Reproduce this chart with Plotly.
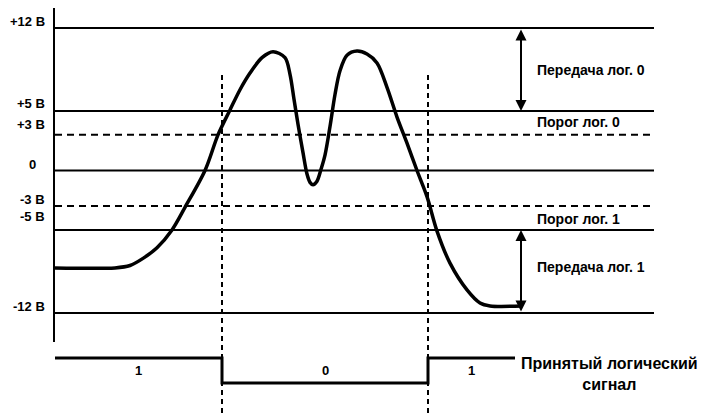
import plotly.graph_objects as go

# ---------------- data ----------------
# voltage levels (V) and their labels / styles
levels = [12, 5, 3, 0, -3, -5, -12]
level_labels = ["+12 В", "+5 В", "+3 В", "0", "-3 В", "-5 В", "-12 В"]
level_dash = ["solid", "solid", "dash", "solid", "dash", "solid", "solid"]

# line signal (time units, volts)
sig_t = [0, 60, 75, 88, 102, 117, 130, 150, 163, 175, 185, 195, 207, 218, 230,
         235, 239, 243, 248, 252, 255, 258, 262, 266, 270, 275, 280, 285, 292,
         302, 312, 322, 332, 342, 352, 362, 372, 382, 395, 412, 425, 435, 467]
sig_v = [-8.2, -8.2, -8.0, -7.4, -6.5, -5.0, -3.1, 0.0, 3.0, 5.1, 6.8, 8.2,
         9.5, 10.0, 9.5, 8.1, 6.0, 3.9, 1.5, -0.3, -1.0, -1.2, -0.9, 0.1, 1.3,
         3.7, 6.4, 8.4, 9.7, 10.05, 9.8, 9.05, 7.0, 4.5, 2.3, 0.0, -2.2, -5.1,
         -7.8, -10.05, -11.15, -11.4, -11.4]

# received logic signal
logic_t = [0, 167, 167, 373, 373, 460]
logic_v = [1, 1, 0, 0, 1, 1]
logic_labels = ["1", "0", "1"]

# zone annotations
zone_texts = ["Передача лог. 0", "Порог лог. 0", "Порог лог. 1", "Передача лог. 1"]
zone_v = [8.46, 4.1, -4.1, -8.1]
arrow_spans = [(5, 12), (-5, -12)]

# ---------------- styles / geometry ----------------
X_END = 599
ARROW_T = 466
LABEL_SHIFT = [6, 8, 10, 6, 7, 13, 7]
FONT = "Liberation Sans, Arial, sans-serif"

fig = go.Figure()

for lv, d in zip(levels, level_dash):
    fig.add_trace(go.Scatter(
        x=[0, X_END], y=[lv, lv], mode="lines",
        line=dict(color="black", width=2, dash="7px,5px" if d == "dash" else "solid"),
        hoverinfo="skip", showlegend=False))

fig.add_trace(go.Scatter(
    x=sig_t, y=sig_v, mode="lines",
    line=dict(color="black", width=3.5, shape="spline", smoothing=0.9),
    hoverinfo="skip", showlegend=False))

fig.add_trace(go.Scatter(
    x=logic_t, y=logic_v, mode="lines", yaxis="y2",
    line=dict(color="black", width=3),
    hoverinfo="skip", showlegend=False))

annotations = []
for lv, lab, sh in zip(levels, level_labels, LABEL_SHIFT):
    annotations.append(dict(
        x=0, y=lv, xref="x", yref="y", text="<b>%s</b>" % lab,
        showarrow=False, xanchor="right", yanchor="middle",
        xshift=-8 if lab != "0" else -17, yshift=sh,
        font=dict(family=FONT, size=13, color="black")))

for txt, v in zip(zone_texts, zone_v):
    annotations.append(dict(
        x=ARROW_T + 14, y=v, xref="x", yref="y", text="<b>%s</b>" % txt,
        showarrow=False, xanchor="left", yanchor="middle",
        font=dict(family=FONT, size=14, color="black")))

for v0, v1 in arrow_spans:
    annotations.append(dict(
        x=ARROW_T, y=v0, ax=ARROW_T, ay=v1, xref="x", yref="y",
        axref="x", ayref="y", text="", showarrow=True,
        arrowhead=2, arrowside="end+start", arrowwidth=2, arrowsize=1.1,
        arrowcolor="black", standoff=0, startstandoff=0))

# logic value labels at segment centers
seg_bounds = [logic_t[0], logic_t[1], logic_t[3], logic_t[-1]]
for i, lab in enumerate(logic_labels):
    annotations.append(dict(
        x=(seg_bounds[i] + seg_bounds[i + 1]) / 2, y=0.5, xref="x", yref="y2",
        text="<b>%s</b>" % lab, showarrow=False,
        font=dict(family=FONT, size=13, color="black")))

annotations.append(dict(
    x=logic_t[-1] + 4, y=0.36, xref="x", yref="y2",
    text="<b>Принятый логический<br>сигнал</b>", showarrow=False,
    xanchor="left", yanchor="middle", align="center",
    font=dict(family=FONT, size=16, color="black")))

shapes = []
for tt in (logic_t[1], logic_t[3]):
    shapes.append(dict(type="line", xref="x", yref="paper",
                       x0=tt, x1=tt, y0=0, y1=0.8346,
                       line=dict(color="black", width=2, dash="5px,4px")))

# page body has an 8px margin: figure is sized/offset to compensate
fig.update_layout(
    width=699, height=405,
    margin=dict(l=47, r=0, t=0, b=0),
    paper_bgcolor="white", plot_bgcolor="white",
    xaxis=dict(range=[0, 652], visible=False),
    yaxis=dict(domain=[0.1753, 1], range=[-14.44, 13.68],
               showline=True, linecolor="black", linewidth=2,
               showgrid=False, zeroline=False, showticklabels=False, ticks=""),
    yaxis2=dict(domain=[0, 0.1753], range=[-1.2, 1.64], anchor="x",
                visible=False),
    annotations=annotations, shapes=shapes,
)

fig.write_html("out.html")
